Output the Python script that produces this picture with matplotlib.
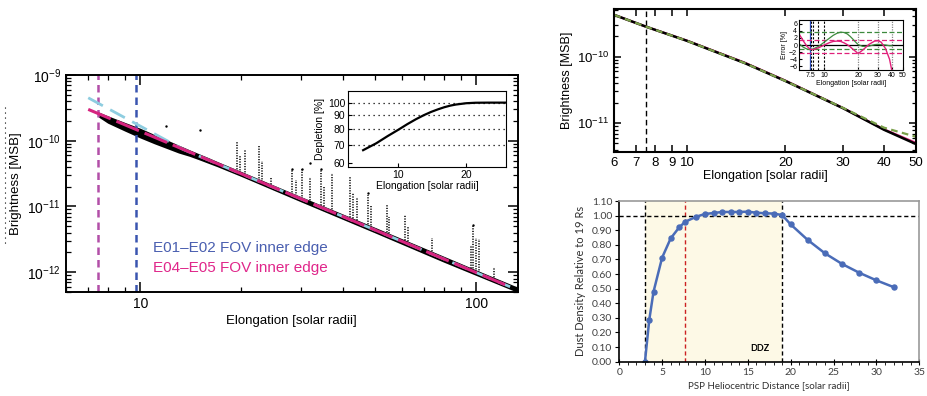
import numpy as np
import matplotlib.pyplot as plt
from matplotlib.lines import Line2D

plt.rcParams['font.family'] = ['Liberation Sans', 'DejaVu Sans']
plt.rcParams['mathtext.fontset'] = 'custom'
plt.rcParams['mathtext.rm'] = 'Liberation Sans'
plt.rcParams['mathtext.it'] = 'Liberation Sans:italic'
plt.rcParams['mathtext.bf'] = 'Liberation Sans:bold'

# ---- left panel: brightness vs elongation ----
band_x = [7.5, 8, 9, 10, 11, 12, 13, 14, 15, 16, 17, 20, 30, 50, 80, 100, 133]
band_hi = [2.75e-10, 2.4e-10, 1.9e-10, 1.55e-10, 1.25e-10, 1.03e-10, 8.6e-11, 7.3e-11,
           6.3e-11, 5.5e-11, 4.8e-11, 3.4e-11, 1.42e-11, 4.8e-12, 1.75e-12, 1.08e-12, 5.9e-13]
band_lo = [2.3e-10, 1.85e-10, 1.4e-10, 1.1e-10, 9.0e-11, 7.6e-11, 6.5e-11, 5.8e-11,
           5.1e-11, 4.5e-11, 4.0e-11, 2.85e-11, 1.18e-11, 3.95e-12, 1.42e-12, 8.9e-13, 4.9e-13]

spike_x = [19.4, 19.8, 20.5, 22.6, 23.0, 24.5, 28.2, 29.0, 30.2, 32.0, 34.6, 35.2, 37.1,
           42.1, 43.0, 44.0, 47.5, 48.5, 54.1, 55.0, 61.4, 62.5, 73.6, 96.5, 97.8, 99.5,
           101.6, 113]
spike_lo = [3.3e-11, 3.2e-11, 3.0e-11, 2.4e-11, 2.35e-11, 2.0e-11, 1.5e-11, 1.42e-11,
            1.3e-11, 1.14e-11, 9.6e-12, 9.3e-12, 8.3e-12, 6.3e-12, 6.0e-12, 5.7e-12,
            4.9e-12, 4.7e-12, 3.7e-12, 3.6e-12, 2.8e-12, 2.7e-12, 1.9e-12, 1.06e-12,
            1.04e-12, 1.0e-12, 9.6e-13, 7.6e-13]
spike_hi = [1.0e-10, 6.0e-11, 7.2e-11, 8.7e-11, 5.0e-11, 2.8e-11, 3.7e-11, 2.5e-11,
            3.7e-11, 2.8e-11, 3.7e-11, 2.0e-11, 3.2e-11, 2.8e-11, 1.6e-11, 1.4e-11,
            1.5e-11, 1.0e-11, 1.04e-11, 7.0e-12, 7.4e-12, 5.0e-12, 3.3e-12, 2.6e-12,
            5.1e-12, 3.3e-12, 3.2e-12, 1.2e-12]
dot_x = [11.9, 15.1, 32.0, 28.2, 30.2, 34.6, 47.5, 97.8]
dot_y = [1.67e-10, 1.45e-10, 4.6e-11, 3.7e-11, 3.7e-11, 3.7e-11, 1.6e-11, 5.2e-12]

fit_x = [7, 126]
fit_y = [3.0e-10, 6.0e-13]
alt_x = [7, 13.4, 126]
alt_y = [4.5e-10, 7.4e-11, 6.0e-13]
edge_e01 = 9.7
edge_e04 = 7.5

dep_x = [7, 8, 9, 10, 11, 12, 13, 14, 15, 16, 17, 18, 20, 22, 25, 30]
dep_y = [67, 71, 75.5, 79.5, 83.5, 87, 90, 92.5, 94.5, 96.2, 97.5, 98.4, 99.5, 99.9, 100, 100]

# ---- top right: model brightness ----
tr_x = [6, 7.5, 10, 15, 20, 30, 40, 50]
tr_black = [4.2e-10, 2.8e-10, 1.72e-10, 8.0e-11, 4.3e-11, 1.68e-11, 8.0e-12, 4.9e-12]
tr_pink = [4.2e-10, 2.8e-10, 1.73e-10, 8.1e-11, 4.35e-11, 1.69e-11, 8.1e-12, 5.1e-12]
tr_green = [4.2e-10, 2.8e-10, 1.72e-10, 8.0e-11, 4.3e-11, 1.7e-11, 8.6e-12, 6.3e-12]

err_x = [6, 6.5, 7, 7.5, 8, 9, 10, 11, 12, 13, 14, 15, 16, 17, 18, 19, 20, 22, 25, 28, 30, 32, 35, 38, 40]
err_green = [0.3, -0.6, -1.1, -1.3, -1.1, -0.3, 0.8, 1.8, 2.7, 3.3, 3.6, 3.5, 3.1, 2.4, 1.6,
             0.8, 0.1, -0.4, -0.3, 0.1, 0.2, 0.1, 0.0, -0.2, -0.2]
err_pink = [3.0, 1.2, -0.3, -1.2, -1.3, -0.7, 0.0, 0.6, 1.0, 1.1, 1.0, 0.6, 0.1, -0.5, -1.2,
            -1.8, -2.4, -1.4, 0.2, 1.1, 1.2, 0.8, -1.0, -4.0, -7.5]
green_lims = [3.6, -1.1]
pink_lims = [1.3, -2.1]

# ---- bottom right: dust density ----
dist = [3, 3.5, 4, 5, 6, 7, 7.7, 9, 10, 11, 12, 13, 14, 15, 16, 17, 18, 19,
        20, 22, 24, 26, 28, 30, 32]
dens = [0.0, 0.285, 0.479, 0.712, 0.844, 0.92, 0.958, 0.993, 1.011, 1.018, 1.025, 1.025,
        1.025, 1.027, 1.02, 1.016, 1.014, 1.004, 0.94, 0.833, 0.742, 0.669, 0.609, 0.557, 0.511]

fig = plt.figure(figsize=(9.27, 3.96), dpi=100)

# left main
ax1 = fig.add_axes([0.0709, 0.2626, 0.4879, 0.548])
ax1.set_xscale('log')
ax1.set_yscale('log')
ax1.axvline(edge_e04, color='#b24fa8', ls=(0, (3, 2)), lw=1.8)
ax1.axvline(edge_e01, color='#3a55b0', ls=(0, (3, 2)), lw=1.8)
ax1.fill_between(band_x, band_lo, band_hi, color='k', lw=0)
ax1.vlines(spike_x, spike_lo, spike_hi, colors='k', linestyles=(0, (0.8, 0.9)), lw=1.1)
ax1.scatter(dot_x, dot_y, s=3, c='k', lw=0)
ax1.plot(alt_x, alt_y, color='#8ecde0', lw=2, dashes=(6, 3))
ax1.plot(fit_x, fit_y, color='#d6247f', lw=2.2, dashes=(8, 2))
ax1.set_xlim(6, 133)
ax1.set_ylim(5e-13, 1e-9)
ax1.set_xticks([10, 100], labels=['10', '100'])
ax1.set_yticks([1e-12, 1e-11, 1e-10, 1e-9],
               labels=[r'$10^{-12}$', r'$10^{-11}$', r'$10^{-10}$', r'$10^{-9}$'])
ax1.tick_params(which='both', direction='in', top=True, right=True, labelsize=10)
ax1.tick_params(which='major', length=7, width=1.1)
ax1.tick_params(which='minor', length=3.5, width=0.9)
for s in ax1.spines.values():
    s.set_linewidth(1.4)
ax1.set_xlabel('Elongation [solar radii]', fontsize=9.5, labelpad=3)
ax1.set_ylabel('Brightness [MSB]', fontsize=9.5, labelpad=4)
ax1.text(0.192, 0.203, 'E01\u2013E02 FOV inner edge', transform=ax1.transAxes,
         color='#4a5fb0', fontsize=11, va='center')
ax1.text(0.192, 0.111, 'E04\u2013E05 FOV inner edge', transform=ax1.transAxes,
         color='#e0268a', fontsize=11, va='center')

# left inset
ax1i = fig.add_axes([0.3754, 0.5775, 0.1704, 0.1919])
ax1i.set_xscale('log')
ax1i.set_yscale('log')
for v in [70, 80, 90, 100]:
    ax1i.axhline(v, color='k', ls=(0, (1, 3)), lw=0.9)
ax1i.plot(dep_x, dep_y, color='k', lw=1.6)
ax1i.set_xlim(6, 30)
ax1i.set_ylim(58, 110)
ax1i.set_xticks([10, 20], labels=['10', '20'])
ax1i.set_xticks([], minor=True)
ax1i.set_yticks([60, 70, 80, 90, 100], labels=['60', '70', '80', '90', '100'])
ax1i.set_yticks([], minor=True)
ax1i.tick_params(direction='in', labelsize=7.5, length=3, pad=2)
ax1i.set_xlabel('Elongation [solar radii]', fontsize=7.5, labelpad=1)
ax1i.set_ylabel('Depletion [%]', fontsize=7.5, labelpad=2)

# stray dotted mark at the far left
fig.add_artist(Line2D([5 / 927, 5 / 927], [1 - 107 / 396, 1 - 247 / 396],
                      color='k', lw=0.8, ls=(0, (1, 3.5))))

# top right main
ax2 = fig.add_axes([0.6627, 0.6169, 0.3251, 0.3596])
ax2.set_xscale('log')
ax2.set_yscale('log')
ax2.axvline(7.5, color='k', ls=(0, (4, 2.5)), lw=1)
ax2.plot(tr_x, tr_pink, color='#e0207a', lw=1.6)
ax2.plot(tr_x, tr_black, color='k', lw=1.8)
ax2.plot(tr_x, tr_green, color='#7aa04a', lw=1.6, dashes=(3, 2))
ax2.set_xlim(6, 50)
ax2.set_ylim(3.75e-12, 5.1e-10)
ticks_tr = [6, 7, 8, 9, 10, 20, 30, 40, 50]
ax2.set_xticks(ticks_tr, labels=[str(t) for t in ticks_tr])
ax2.set_xticks([], minor=True)
ax2.set_yticks([1e-11, 1e-10], labels=['$10^{\u221211}$', '$10^{\u221210}$'])
ax2.tick_params(which='both', direction='in', top=True, right=True, labelsize=9.5)
ax2.tick_params(which='major', length=5, width=1.1)
ax2.tick_params(which='minor', length=3, width=0.9)
for s in ax2.spines.values():
    s.set_linewidth(1.5)
ax2.set_xlabel('Elongation [solar radii]', fontsize=9, labelpad=1)
ax2.set_ylabel('Brightness [MSB]', fontsize=9, labelpad=3)

# top right inset
ax2i = fig.add_axes([0.8622, 0.8232, 0.1119, 0.1263])
ax2i.set_xscale('log')
ax2i.axvline(7.5, color='#3050c0', lw=0.9)
for v in [7.7, 8.0, 8.85, 10.0]:
    ax2i.axvline(v, color='k', ls=(0, (2, 1.5)), lw=0.8)
for v in [20, 30, 40]:
    ax2i.axvline(v, color='#888888', ls=(0, (1, 1)), lw=0.9)
for v in green_lims:
    ax2i.axhline(v, color='#3d8a3d', ls=(0, (4, 2)), lw=0.9)
for v in pink_lims:
    ax2i.axhline(v, color='#e0207a', ls=(0, (4, 2)), lw=0.9)
ax2i.axhline(0, color='k', lw=0.9)
ax2i.plot(err_x, err_green, color='#3d8a3d', lw=0.9)
ax2i.plot(err_x, err_pink, color='#e0207a', lw=1.0)
ax2i.set_xlim(6, 50)
ax2i.set_ylim(-7, 7)
ticks_err = [7.5, 10, 20, 30, 40, 50]
ax2i.set_xticks(ticks_err, labels=['7.5', '10', '20', '30', '40', '50'])
ax2i.set_xticks([], minor=True)
ax2i.set_yticks([-6, -4, -2, 0, 2, 4, 6])
ax2i.tick_params(direction='in', labelsize=5, length=2, pad=1.5)
ax2i.set_xlabel('Elongation [solar radii]', fontsize=5, labelpad=0.5)
ax2i.set_ylabel('Error [%]', fontsize=5, labelpad=1)

# bottom right
ax3 = fig.add_axes([0.668, 0.0866, 0.3236, 0.4058])
ax3.axvspan(3, 19, color='#fdf9e6', lw=0)
ax3.axvline(3, color='k', ls=(0, (3, 2)), lw=1)
ax3.axvline(19, color='k', ls=(0, (3, 2)), lw=1)
ax3.axvline(7.7, color='#cc2222', ls=(0, (3, 2)), lw=1)
ax3.axhline(1.0, color='k', ls=(0, (3, 2)), lw=1)
ax3.plot(dist, dens, '-o', color='#4a6cb8', lw=1.8, ms=3.6)
ax3.text(16.4, 0.09, 'DDZ', fontsize=6.5, fontweight='bold', ha='center', va='center',
         family=['Lato', 'DejaVu Sans'])
ax3.set_xlim(0, 35)
ax3.set_ylim(0, 1.10)
ax3.set_xticks(np.arange(0, 36, 5))
ax3.set_xticks(np.arange(0, 36, 1), minor=True)
yt = np.round(np.arange(0, 1.101, 0.1), 2)
ax3.set_yticks(yt, labels=['%.2f' % v for v in yt])
for lab in ax3.get_xticklabels() + ax3.get_yticklabels():
    lab.set_family(['Lato', 'DejaVu Sans'])
ax3.tick_params(labelsize=7.5, colors='k', labelcolor='#404040', pad=2)
ax3.tick_params(axis='x', which='major', direction='inout', length=5)
ax3.tick_params(axis='x', which='minor', direction='out', length=2.5)
ax3.tick_params(axis='y', direction='out', length=3)
ax3.spines['top'].set_color('#999999')
ax3.spines['right'].set_color('#999999')
for s in ax3.spines.values():
    s.set_linewidth(1.2)
ax3.set_xlabel('PSP Heliocentric Distance [solar radii]', fontsize=7, labelpad=3,
               family=['Lato', 'DejaVu Sans'], color='#303030')
ax3.set_ylabel('Dust Density Relative to 19 Rs', fontsize=8, labelpad=4,
               family=['Lato', 'DejaVu Sans'], color='#303030')

fig.savefig('out.png', dpi=100)
